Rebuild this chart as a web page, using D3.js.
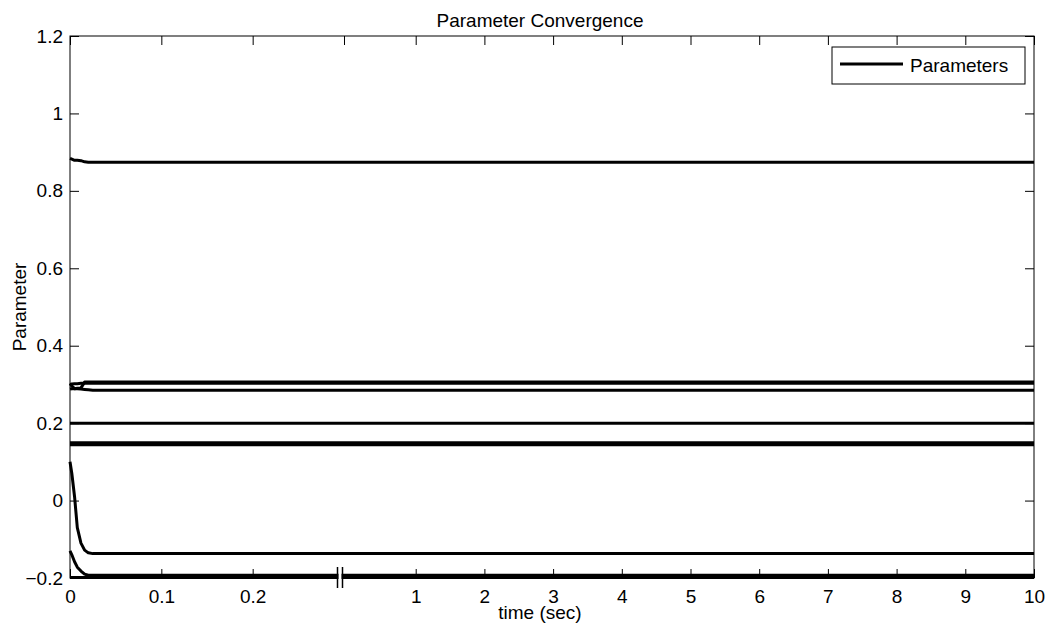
<!DOCTYPE html>
<html>
<head>
<meta charset="utf-8">
<script src="https://cdn.jsdelivr.net/npm/d3@7/dist/d3.min.js"></script>
<style>
  body { margin: 0; background: #fff; }
  text { font-family: Arial, "Liberation Sans", sans-serif; fill: #000; }
</style>
</head>
<body>
<svg id="chart" width="1047" height="625"></svg>
<script>
// Sample times (sec) shared by every parameter trace
const time = [0, 0.002, 0.005, 0.008, 0.012, 0.016, 0.02, 0.025, 10];

// Parameter estimates over time
const param1  = [0.884, 0.882, 0.879, 0.879, 0.878, 0.875, 0.874, 0.874, 0.874];
const param2  = [0.288, 0.289, 0.289, 0.290, 0.291, 0.306, 0.306, 0.306, 0.306];
const param3  = [0.300, 0.301, 0.302, 0.302, 0.303, 0.303, 0.303, 0.303, 0.303];
const param4  = [0.302, 0.296, 0.289, 0.289, 0.288, 0.287, 0.286, 0.285, 0.285];
const param5  = [0.200, 0.200, 0.200, 0.200, 0.200, 0.200, 0.200, 0.200, 0.200];
const param6  = [0.1495, 0.1495, 0.1495, 0.1495, 0.1495, 0.1495, 0.1495, 0.1495, 0.1495];
const param7  = [0.1445, 0.1445, 0.1445, 0.1445, 0.1445, 0.1445, 0.1445, 0.1445, 0.1445];
const param8  = [0.100, 0.070, 0.010, -0.070, -0.110, -0.128, -0.135, -0.137, -0.137];
const param9  = [-0.130, -0.140, -0.158, -0.172, -0.182, -0.190, -0.193, -0.193, -0.193];
const param10 = [-0.199, -0.199, -0.199, -0.199, -0.199, -0.199, -0.199, -0.199, -0.199];

const params = [param1, param2, param3, param4, param5, param6, param7, param8, param9, param10];

// Axis ticks
const yTicks = [-0.2, 0, 0.2, 0.4, 0.6, 0.8, 1, 1.2];
const xTicks = [0, 0.1, 0.2, 1, 2, 3, 4, 5, 6, 7, 8, 9, 10];
const xTickLabels = ["0", "0.1", "0.2", "1", "2", "3", "4", "5", "6", "7", "8", "9", "10"];
const xTopTicks = [0, 0.1, 0.2, 0.3, 1, 2, 3, 4, 5, 6, 7, 8, 9, 10];
const xBreakAt = 0.3;          // time where the axis jumps from the zoomed start to the full run
const xDomain = [0, 0.3, 1, 10];

const titleText = "Parameter Convergence";
const xLabel = "time (sec)";
const yLabel = "Parameter";
const legendLabel = "Parameters";

// Layout
const plot = { left: 70, right: 1034, top: 36, bottom: 578 };
const svg = d3.select("#chart");
const fontSize = 19;
const labelCenterX = 540;

// Broken time axis: 0–0.3 s stretched, then 1–10 s at a compressed rate
const x = d3.scaleLinear()
  .domain(xDomain)
  .range([plot.left, 344, 415.7, plot.right]);
const y = d3.scaleLinear()
  .domain([-0.2, 1.2])
  .range([plot.bottom, plot.top]);

// Traces
const line = d3.line()
  .x((d, i) => x(time[i]))
  .y(d => y(d));

svg.append("g")
  .selectAll("path")
  .data(params)
  .join("path")
  .attr("d", line)
  .attr("fill", "none")
  .attr("stroke", "#000")
  .attr("stroke-width", 3)
  .attr("stroke-linejoin", "round");

// Axes box
svg.append("rect")
  .attr("x", plot.left).attr("y", plot.top)
  .attr("width", plot.right - plot.left)
  .attr("height", plot.bottom - plot.top)
  .attr("fill", "none")
  .attr("stroke", "#000")
  .attr("stroke-width", 1);

const tickLen = 9;

svg.append("g")
  .attr("transform", `translate(0,${plot.bottom})`)
  .call(d3.axisBottom(x)
    .tickValues(xTicks)
    .tickFormat((d, i) => xTickLabels[i])
    .tickSize(-tickLen)
    .tickSizeOuter(0)
    .tickPadding(12));

svg.append("g")
  .attr("transform", `translate(0,${plot.top})`)
  .call(d3.axisTop(x)
    .tickValues(xTopTicks)
    .tickFormat("")
    .tickSize(-tickLen)
    .tickSizeOuter(0));

svg.append("g")
  .attr("transform", `translate(${plot.left},0)`)
  .call(d3.axisLeft(y)
    .tickValues(yTicks)
    .tickFormat(d => d3.format("")(+d.toFixed(1)))
    .tickSize(-tickLen)
    .tickSizeOuter(0)
    .tickPadding(7));

svg.append("g")
  .attr("transform", `translate(${plot.right},0)`)
  .call(d3.axisRight(y)
    .tickValues(yTicks)
    .tickFormat("")
    .tickSize(-tickLen)
    .tickSizeOuter(0));

svg.selectAll(".domain").remove();
svg.selectAll(".tick line").attr("stroke", "#000");
svg.selectAll(".tick text")
  .attr("font-size", fontSize)
  .attr("font-family", "Arial, 'Liberation Sans', sans-serif")
  .attr("fill", "#000");

// Axis break marker
const xb = x(xBreakAt) - 4;
svg.append("rect")
  .attr("x", xb - 1.5).attr("y", plot.bottom - 12)
  .attr("width", 3).attr("height", 22)
  .attr("fill", "#fff");
svg.append("g")
  .selectAll("line")
  .data([-2.5, 2.5])
  .join("line")
  .attr("x1", d => xb + d).attr("x2", d => xb + d)
  .attr("y1", plot.bottom - 11).attr("y2", plot.bottom + 10)
  .attr("stroke", "#000")
  .attr("stroke-width", 1.5);

// Title and axis labels
svg.append("text")
  .attr("x", labelCenterX)
  .attr("y", 27)
  .attr("text-anchor", "middle")
  .attr("font-size", fontSize)
  .text(titleText);

svg.append("text")
  .attr("x", labelCenterX)
  .attr("y", 619)
  .attr("text-anchor", "middle")
  .attr("font-size", fontSize)
  .text(xLabel);

svg.append("text")
  .attr("transform", `translate(26,${(plot.top + plot.bottom) / 2}) rotate(-90)`)
  .attr("text-anchor", "middle")
  .attr("font-size", fontSize)
  .text(yLabel);

// Legend
const legend = svg.append("g").attr("transform", "translate(832,47)");
legend.append("rect")
  .attr("width", 193).attr("height", 37)
  .attr("fill", "#fff")
  .attr("stroke", "#000")
  .attr("stroke-width", 1);
legend.append("line")
  .attr("x1", 8).attr("x2", 71)
  .attr("y1", 17).attr("y2", 17)
  .attr("stroke", "#000")
  .attr("stroke-width", 3);
legend.append("text")
  .attr("x", 78)
  .attr("y", 24.5)
  .attr("font-size", fontSize)
  .text(legendLabel);
</script>
</body>
</html>
